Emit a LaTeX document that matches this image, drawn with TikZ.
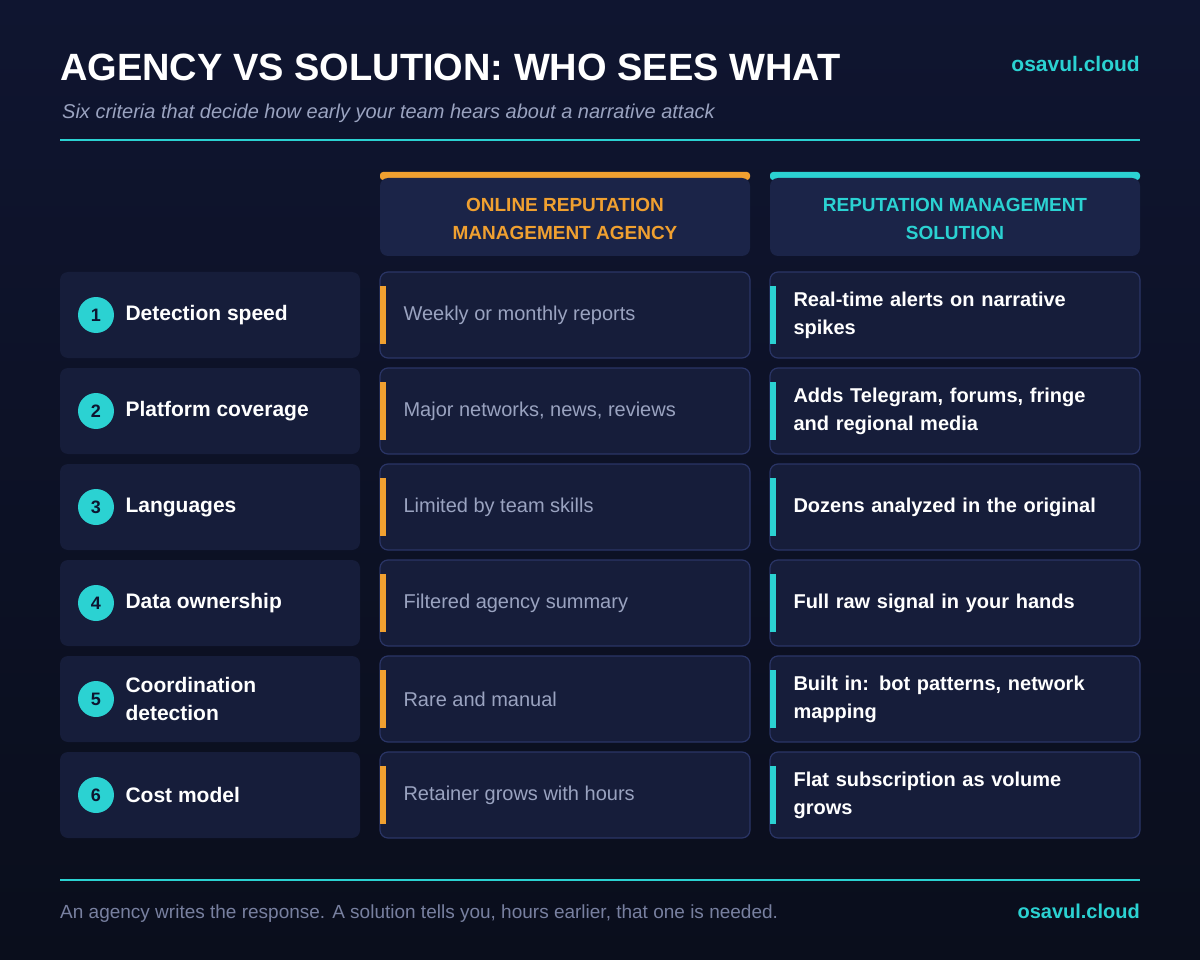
\documentclass[tikz,border=0pt]{standalone}
\usepackage{fontspec}
\setmainfont{Liberation Sans}
\begin{document}
\definecolor{bgtop}{HTML}{0F1530}
\definecolor{bgbot}{HTML}{0A0E1C}
\definecolor{card}{HTML}{161D3A}
\definecolor{hcard}{HTML}{1B2448}
\definecolor{bord}{HTML}{2A3566}
\definecolor{teal}{HTML}{2BD2D2}
\definecolor{orng}{HTML}{F0A030}
\definecolor{gtext}{HTML}{9AA3C0}
\definecolor{ftext}{HTML}{7880A0}
\definecolor{circtxt}{HTML}{0D1530}
\begin{tikzpicture}[x=1pt,y=-1pt,
 lab/.style={fill=card,rounded corners=8pt},
 cell/.style={fill=card,draw=bord,line width=1.2pt,rounded corners=8pt},
 num/.style={circle,fill=teal,minimum size=36pt,inner sep=0pt,text=circtxt,font=\bfseries\fontsize{18}{18}\selectfont},
 labt/.style={anchor=west,text=white,align=left,font=\bfseries\fontsize{21}{28}\selectfont},
 agt/.style={anchor=west,text=gtext,font=\fontsize{20}{26}\selectfont},
 sot/.style={anchor=west,text=white,align=left,text width=310pt,font=\bfseries\fontsize{20}{28}\selectfont},
 hdr/.style={align=center,font=\bfseries\fontsize{19}{28}\selectfont}]
\shade[top color=bgtop,bottom color=bgbot] (0,0) rectangle (1200,960);
\useasboundingbox (0,0) rectangle (1200,960);
\node[anchor=base west,text=white,font=\bfseries\fontsize{38}{40}\selectfont,inner sep=0] (title) at (60,81) {AGENCY VS SOLUTION: WHO SEES WHAT};
\node[anchor=base east,text=teal,font=\bfseries\fontsize{21}{24}\selectfont,inner sep=0] (brand) at (1140,72) {osavul.cloud};
\node[anchor=base west,text=gtext,font=\itshape\fontsize{20}{24}\selectfont,inner sep=0] (sub) at (62,119) {Six criteria that decide how early your team hears about a narrative attack};
\draw[teal,line width=2pt] (60,140) -- (1140,140);
% headers
\fill[orng,rounded corners=3pt] (380,172) rectangle (750,180);
\fill[hcard,rounded corners=8pt] (380,178) rectangle (750,256);
\node[hdr,text=orng] (h1) at (565,219) {ONLINE REPUTATION\\MANAGEMENT AGENCY};
\fill[teal,rounded corners=3pt] (770,172) rectangle (1140,180);
\fill[hcard,rounded corners=8pt] (770,178) rectangle (1140,256);
\node[hdr,text=teal] (h2) at (955,219) {REPUTATION MANAGEMENT\\SOLUTION};
\foreach \i/\lab/\ag/\so [count=\k from 0] in {
 1/Detection speed/Weekly or monthly reports/Real-time alerts on narrative spikes,
 2/Platform coverage/{Major networks, news, reviews}/{Adds Telegram, forums, fringe and regional media},
 3/Languages/Limited by team skills/Dozens analyzed in the original,
 4/Data ownership/Filtered agency summary/Full raw signal in your hands,
 5/{Coordination\\detection}/Rare and manual/{Built in: bot patterns, network mapping},
 6/Cost model/Retainer grows with hours/Flat subscription as volume grows}{
 \pgfmathsetmacro{\yt}{272+96*\k}
 \pgfmathsetmacro{\yc}{\yt+43}
 \fill[lab] (60,\yt) rectangle (360,\yt+86);
 \draw[cell] (380,\yt) rectangle (750,\yt+86);
 \draw[cell] (770,\yt) rectangle (1140,\yt+86);
 \fill[orng] (380,\yt+14) rectangle (386,\yt+72);
 \fill[teal] (770,\yt+14) rectangle (776,\yt+72);
 \node[num] (n\i) at (96,\yc) {\i};
 \node[labt] (l\i) at (122,\yc) {\lab};
 \node[agt] (a\i) at (400,\yc) {\ag};
 \node[sot] (s\i) at (790,\yc) {\so};
}
\draw[teal,line width=1.5pt] (60,880) -- (1140,880);
\node[anchor=base west,text=ftext,font=\fontsize{19}{24}\selectfont,inner sep=0] (foot) at (60,918) {An agency writes the response. A solution tells you, hours earlier, that one is needed.};
\node[anchor=base east,text=teal,font=\bfseries\fontsize{20}{24}\selectfont,inner sep=0] (brand2) at (1140,918) {osavul.cloud};
\end{tikzpicture}
\end{document}
